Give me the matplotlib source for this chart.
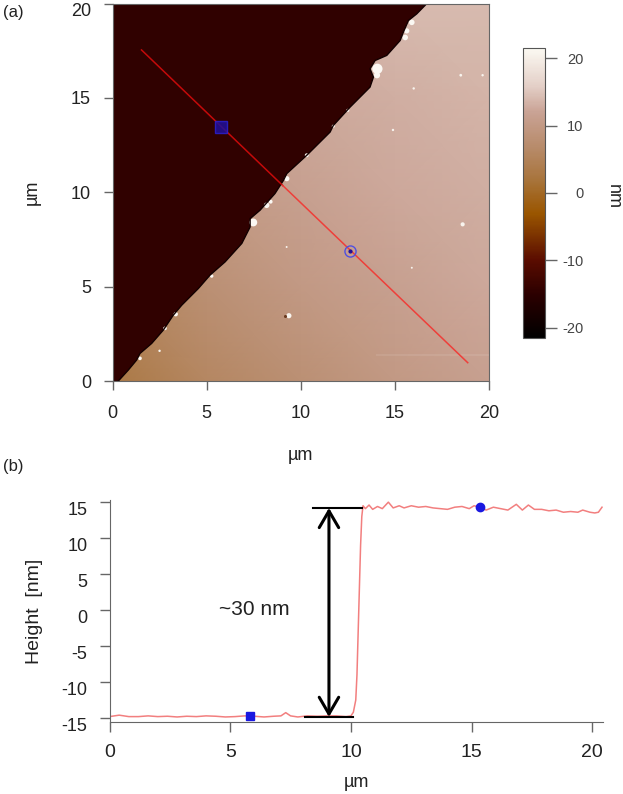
import numpy as np
import matplotlib
matplotlib.use('Agg')
import matplotlib.pyplot as plt
from matplotlib.colors import LinearSegmentedColormap, Normalize

plt.rcParams['font.family'] = ['Liberation Sans', 'DejaVu Sans']
plt.rcParams['axes.unicode_minus'] = False

W, H = 623, 794

# terrace heights on a coarse grid (nm)
grid_x = [0, 5, 10, 15, 20]
grid_y = [0, 5, 10, 15, 20]
grid_z = [[3, 6, 8, 10, 11.5],
          [6, 8, 10, 11.5, 12.5],
          [9, 10, 11.5, 12.5, 13],
          [11, 12, 12.5, 13, 13.5],
          [12, 13, 13.5, 14, 14]]

# step edge in the AFM map (um)
edge_x = [0.31, 0.84, 1.28, 1.46, 2.08, 2.7, 3.23, 3.68, 4.56, 5.18, 5.98, 6.87, 7.31, 7.31, 7.84, 8.63,
          9.08, 9.26, 10.32, 11.56, 11.73, 12.62, 13.68, 13.86, 13.68, 13.95, 14.57, 15.28, 15.45, 15.72, 16.16, 16.7]
edge_y = [0, 0.58, 1.11, 1.46, 1.99, 2.7, 3.49, 4.02, 4.9, 5.61, 6.31, 7.29, 8.16, 8.6, 9.05, 9.93,
          10.63, 10.99, 11.96, 13.19, 13.54, 14.51, 15.57, 16.1, 16.54, 16.98, 17.25, 18.04, 18.48, 19.1, 19.45, 20.0]

# bright debris
rim_x = [1.46, 2.79, 3.36, 5.27, 7.48, 8.19, 8.4, 9.26, 10.32, 11.73, 12.5, 14.07, 14.05, 15.55, 15.63, 15.9]
rim_y = [1.2, 2.79, 3.54, 5.56, 8.4, 9.31, 9.5, 10.72, 11.96, 13.5, 14.34, 16.54, 16.2, 18.2, 18.55, 19.0]
rim_s = [7, 7, 10, 6, 32, 16, 8, 14, 8, 5, 5, 55, 20, 16, 14, 16]
dot_x = [9.37, 18.6, 18.5, 19.66, 14.9, 16.0, 2.5, 15.9, 9.25]
dot_y = [3.46, 8.3, 16.2, 16.2, 13.3, 15.5, 1.6, 6.0, 7.1]
dot_s = [14, 9, 4, 3, 3, 3, 3, 2, 2]
pit_x = 9.17
pit_y = 3.46

# scan line artefact
band_y = 1.4
band_x0 = 14
band_x1 = 20

# section line
line_x = [1.54, 9.05, 18.87]
line_y = [17.54, 10.35, 0.97]
mark_a = (5.74, 13.48)
mark_b = (12.63, 6.87)

# colour scale
cmap_pos = [-21.5, -15, -10, -3, 2, 7, 12, 16, 21.5]
cmap_col = ['#000000', '#2c0000', '#5a0c00', '#9a5600', '#a8743c', '#b88c6c', '#c9a294', '#e4d0c8', '#fbf9f2']
cbar_ticks = [-20, -10, 0, 10, 20]
dark_height = -14.5

# height profile
prof_x = [0, 0.4, 0.8, 1.2, 1.6, 2.0, 2.4, 2.8, 3.2, 3.6, 4.0, 4.4, 4.8, 5.2, 5.6, 6.0, 6.4, 6.8, 7.1, 7.3, 7.5, 7.8,
          8.2, 8.6, 9.0, 9.4, 9.8, 10.0, 10.1, 10.2, 10.25, 10.3, 10.35, 10.4, 10.45, 10.5,
          10.6, 10.75, 10.9, 11.1, 11.3, 11.55, 11.75, 12.0, 12.2, 12.5, 12.8, 13.1, 13.4, 13.7, 14.0, 14.3, 14.6, 14.9,
          15.1, 15.35, 15.6, 15.9, 16.2, 16.5, 16.85, 17.1, 17.35, 17.6, 17.9, 18.2, 18.5, 18.8, 19.1, 19.4, 19.6, 19.9, 20.1, 20.25, 20.4]
prof_y = [-14.8, -14.6, -14.8, -14.8, -14.7, -14.8, -14.75, -14.85, -14.75, -14.8, -14.7, -14.75, -14.85, -14.8, -14.7, -14.75,
          -14.85, -14.75, -14.7, -14.25, -14.7, -14.85, -14.7, -14.75, -14.7, -14.7, -14.8, -14.7, -14.2, -12.5, -9,
          -3, 3, 9, 13, 14.5, 14.1, 14.6, 14.0, 14.4, 14.1, 15.0, 14.2, 14.5, 14.2, 14.5, 14.3, 14.4, 14.2, 14.1, 14.0, 14.3, 14.4, 14.1,
          14.5, 14.3, 13.9, 14.3, 14.1, 13.9, 14.7, 13.9, 14.6, 14.0, 14.0, 13.8, 13.9, 13.6, 13.7, 13.6, 13.9, 13.6, 13.5, 13.6, 14.3]
peak_a = (5.8, -14.7)
peak_b = (15.35, 14.3)


def axes_px(left, top, right, bottom):
    return fig.add_axes([left / W, 1 - bottom / H, (right - left) / W, (bottom - top) / H])


fig = plt.figure(figsize=(W / 100, H / 100), dpi=100)
edge_grey = '#666666'
text_col = '#222222'

cmap = LinearSegmentedColormap.from_list(
    'afm', [((p - cmap_pos[0]) / (cmap_pos[-1] - cmap_pos[0]), c) for p, c in zip(cmap_pos, cmap_col)])
norm = Normalize(cmap_pos[0], cmap_pos[-1])

# (a) map
ax = axes_px(112.5, 3.5, 489, 381)
mesh = ax.pcolormesh(grid_x, grid_y, np.array(grid_z), shading='gouraud', cmap=cmap, norm=norm)
ax.hlines(band_y, band_x0, band_x1, color='white', lw=1.2, alpha=0.1)
ax.fill([0] + edge_x + [0], [0] + edge_y + [20], color=cmap(norm(dark_height)), lw=0)
ax.plot(edge_x, edge_y, color='#120000', lw=1.0)
ax.scatter(rim_x, rim_y, s=rim_s, color='#fbf8f3', lw=0)
ax.scatter(dot_x, dot_y, s=dot_s, color='#f8f4ee', lw=0)
ax.scatter([pit_x], [pit_y], s=5, color='#6a3a20', lw=0)
ax.plot(line_x[:2], line_y[:2], color='#c40a0a', lw=1.1)
ax.plot(line_x[1:], line_y[1:], color='#ee3f3a', lw=1.1)
ax.plot(*mark_a, marker='s', ms=8, mfc='#20109a', mec='#2a20d0', mew=1, alpha=0.85)
ax.plot(*mark_b, marker='o', ms=8, mfc='none', mec='#5050e0', mew=1)
ax.plot(*mark_b, marker='o', ms=2, color='#20109a')
ax.set_xlim(0, 20)
ax.set_ylim(0, 20)
ax.set_xticks([0, 5, 10, 15, 20])
ax.set_yticks([0, 5, 10, 15, 20])
ax.tick_params(length=6.5, width=1, color=edge_grey, labelsize=13, labelcolor=text_col)
ax.tick_params(axis='x', pad=11)
ax.tick_params(axis='y', pad=9)
ax.get_yticklabels()[-1].set_va('top')
for s in ax.spines.values():
    s.set_color(edge_grey)
ax.set_xlabel('µm', fontsize=13, color=text_col, labelpad=18)
ax.set_ylabel('µm', fontsize=13, color=text_col, labelpad=22)

# colour bar
cax = axes_px(523, 48, 545, 338)
cb = fig.colorbar(mesh, cax=cax, ticks=cbar_ticks)
cb.outline.set_edgecolor('#555555')
cb.ax.tick_params(length=8.5, width=1, color=edge_grey, labelsize=10.5, labelcolor='#444444', pad=19)
for t in cb.ax.yaxis.get_major_ticks():
    t.label2.set_ha('right')
fig.text(613 / W, 1 - 197 / H, 'nm', rotation=-90, fontsize=13, color=text_col, ha='center', va='center')

# (b) profile
bx = axes_px(109.5, 500, 602.5, 722)
bx.plot(prof_x, prof_y, color='#f27f7f', lw=1.1)
bx.plot([8.43, 10.46], [14.15, 14.15], color='black', lw=1.5)
bx.plot([8.1, 10.08], [-14.85, -14.85], color='black', lw=1.5)
bx.annotate('', xy=(9.09, 14.2), xytext=(9.09, -14.85),
            arrowprops=dict(arrowstyle='<->,head_length=1.2,head_width=0.7', color='black', lw=2.2,
                            shrinkA=0, shrinkB=0))
bx.text(5.98, 0.1, '~30 nm', fontsize=15, color=text_col, ha='center', va='center')
bx.plot(*peak_a, marker='s', ms=6, color='#1a18e0')
bx.plot(*peak_b, marker='o', ms=6, color='#1a18e0')
bx.set_xlim(0, 20.42)
bx.set_ylim(-15.55, 15.3)
bx.set_xticks([0, 5, 10, 15, 20])
bx.set_yticks([-15, -10, -5, 0, 5, 10, 15])
bx.tick_params(length=7, width=1, color=edge_grey, labelcolor=text_col, labelsize=14)
bx.tick_params(axis='x', pad=9)
bx.tick_params(axis='y', labelsize=13, pad=9)
bx.spines['top'].set_visible(False)
bx.spines['right'].set_visible(False)
bx.spines['left'].set_color(edge_grey)
bx.spines['bottom'].set_color(edge_grey)
for lab in bx.get_yticklabels():
    lab.set_va('top')
bx.set_xlabel('µm', fontsize=13, color=text_col, labelpad=9)
bx.set_ylabel('Height  [nm]', fontsize=14, color=text_col, labelpad=13)

fig.text(3 / W, 1 - 13 / H, '(a)', fontsize=12, color=text_col, va='center')
fig.text(3 / W, 1 - 467 / H, '(b)', fontsize=12, color=text_col, va='center')

fig.savefig('out.png', dpi=100)
